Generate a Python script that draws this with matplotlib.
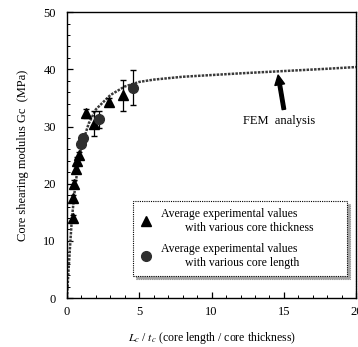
import matplotlib
matplotlib.use("Agg")
import matplotlib.pyplot as plt
import numpy as np
from matplotlib.ticker import MultipleLocator
from matplotlib.lines import Line2D

plt.rcParams['font.family'] = ['Liberation Serif', 'DejaVu Serif']
plt.rcParams['mathtext.fontset'] = 'stix'

# FEM analysis curve
fem_x = [0, 0.1, 0.2, 0.33, 0.5, 0.7, 1.0, 1.5, 2.0, 3.0, 4.0, 5.0, 6.0, 8.0, 10.0, 12.0, 15.0, 18.0, 20.0]
fem_y = [0, 4.5, 8.5, 13.5, 18.0, 22.0, 26.5, 30.5, 33.0, 35.5, 37.0, 37.8, 38.2, 38.7, 39.0, 39.3, 39.7, 40.1, 40.4]

# Average experimental values with various core thickness (triangles)
thk_x = [0.4, 0.45, 0.5, 0.6, 0.7, 0.8, 1.3, 1.9, 2.9, 3.9]
thk_y = [14.0, 17.5, 20.0, 22.5, 24.0, 25.0, 32.3, 30.5, 34.3, 35.5]
thk_err = [0.6, 0.6, 0.6, 0.6, 0.6, 0.6, 0.8, 2.2, 0.6, 2.7]

# Average experimental values with various core length (circles)
len_x = [1.0, 1.1, 2.2, 4.6]
len_y = [27.0, 28.0, 31.3, 36.8]
len_err = [0.6, 0.6, 1.5, 3.0]

fig = plt.figure(figsize=(3.58, 3.47), dpi=100)
ax = fig.add_axes([0.187, 0.141, 0.808, 0.824])

ax.plot(fem_x, fem_y, color='#3a3a3a', lw=1.8, ls=(0, (1, 0.5)), zorder=2)

ax.errorbar(thk_x, thk_y, yerr=thk_err, fmt='^', color='black', ms=7,
            ecolor='black', elinewidth=0.9, capsize=2, zorder=3)
ax.errorbar(len_x, len_y, yerr=len_err, fmt='o', color='#2e2e2e', ms=7,
            ecolor='black', elinewidth=0.9, capsize=2, zorder=3)

ax.set_xlim(0, 20)
ax.set_ylim(0, 50)
ax.xaxis.set_major_locator(MultipleLocator(5))
ax.xaxis.set_minor_locator(MultipleLocator(1))
ax.yaxis.set_major_locator(MultipleLocator(10))
ax.yaxis.set_minor_locator(MultipleLocator(2))
ax.tick_params(which='both', direction='in', labelsize=9)
ax.tick_params(axis='y', pad=8)
ax.tick_params(axis='x', pad=6)
ax.tick_params(which='major', length=4, width=0.9)
ax.tick_params(which='minor', length=2.5, width=0.7)
for s in ax.spines.values():
    s.set_linewidth(1.0)
ax.spines['right'].set_linestyle((0, (1, 0.8)))

ax.set_ylabel('Core shearing modulus Gc  (MPa)', fontsize=9, labelpad=10)
ax.set_xlabel('$L_c$ / $t_c$ (core length / core thickness)', fontsize=8.5, labelpad=8)

ax.annotate('FEM  analysis', xy=(14.6, 39.0), xytext=(12.2, 31.0),
            fontsize=9, ha='left', va='center')
ax.annotate('', xy=(14.6, 39.0), xytext=(15.0, 33.0),
            arrowprops=dict(facecolor='black', edgecolor='black', width=2.5,
                            headwidth=7, headlength=7, shrink=0))

handles = [Line2D([], [], marker='^', color='black', ls='none', ms=7),
           Line2D([], [], marker='o', color='#2e2e2e', ls='none', ms=7)]
labels = ['Average experimental values\n        with various core thickness',
          'Average experimental values\n        with various core length']
leg = ax.legend(handles, labels, loc='lower left',
                bbox_to_anchor=(0.228, 0.077, 0.741, 0.29),
                mode='expand', fontsize=8.5, frameon=True, fancybox=False,
                shadow=True, handletextpad=0.8, borderpad=0.6, labelspacing=0.8,
                handlelength=1.0, borderaxespad=0)
fr = leg.get_frame()
fr.set_edgecolor('black')
fr.set_linestyle((0, (1, 1)))
fr.set_linewidth(0.8)

fig.savefig('out.png', dpi=100)
